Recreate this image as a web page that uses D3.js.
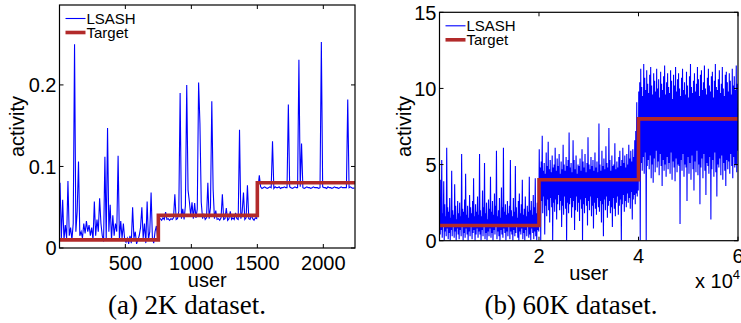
<!DOCTYPE html>
<html>
<head>
<meta charset="utf-8">
<script src="https://cdn.jsdelivr.net/npm/d3@7"></script>
<style>
  html, body { margin: 0; padding: 0; background: #fff; }
  svg { display: block; }
  .tick-label { font-family: "Liberation Sans", Arial, sans-serif; font-size: 20px; fill: #000; }
  .axis-title { font-family: "Liberation Sans", Arial, sans-serif; font-size: 20px; fill: #000; }
  .legend-text { font-family: "Liberation Sans", Arial, sans-serif; font-size: 15px; fill: #000; }
  .caption { font-family: "Liberation Serif", "Times New Roman", serif; font-size: 27px; fill: #000; }
</style>
</head>
<body>
<div id="chart"></div>
<script>
// ---- panel (a): 2K dataset, LSASH sampled every 10 users starting at user 5 ----
const lsashStartA = 5, lsashStepA = 10;
const lsashA = [
  0.08, 0.012, 0.059, 0.01, 0.028, 0.012, 0.082, 0.015, 0.025, 0.01,
  0.03, 0.25, 0.02, 0.045, 0.106, 0.015, 0.02, 0.012, 0.03, 0.018,
  0.033, 0.02, 0.028, 0.015, 0.025, 0.01, 0.057, 0.015, 0.035, 0.02,
  0.061, 0.03, 0.015, 0.008, 0.112, 0.01, 0.147, 0.02, 0.053, 0.01,
  0.04, 0.015, 0.03, 0.02, 0.113, 0.01, 0.033, 0.012, 0.03, 0.01,
  0.007, 0.012, 0.005, 0.015, 0.006, 0.05, 0.012, 0.02, 0.005, 0.01,
  0.015, 0.025, 0.05, 0.012, 0.03, 0.006, 0.057, 0.01, 0.02, 0.068,
  0.012, 0.006, 0.02, 0.027, 0.012,
  0.035, 0.036, 0.034, 0.037, 0.035, 0.044, 0.035, 0.036, 0.034, 0.036,
  0.035, 0.037, 0.066, 0.035, 0.036, 0.045, 0.19, 0.036, 0.048, 0.035,
  0.052, 0.2, 0.071, 0.057, 0.04, 0.056, 0.036, 0.055, 0.037, 0.048,
  0.203, 0.153, 0.056, 0.036, 0.042, 0.035, 0.037, 0.08, 0.036, 0.05,
  0.18, 0.072, 0.036, 0.046, 0.035, 0.036, 0.034, 0.037, 0.066, 0.035,
  0.036, 0.049, 0.034, 0.036, 0.045, 0.035, 0.037, 0.035, 0.043, 0.036,
  0.035, 0.145, 0.036, 0.044, 0.068, 0.035, 0.037, 0.077, 0.036, 0.035,
  0.04, 0.036, 0.034, 0.037, 0.036,
  0.074, 0.089, 0.075, 0.073, 0.074, 0.075, 0.074, 0.073, 0.074, 0.075,
  0.074, 0.131, 0.073, 0.075, 0.074, 0.074, 0.075, 0.073, 0.074, 0.074,
  0.075, 0.074, 0.074, 0.176, 0.075, 0.074, 0.073, 0.074, 0.075, 0.074,
  0.074, 0.231, 0.075, 0.128, 0.074, 0.073, 0.074, 0.075, 0.074, 0.074,
  0.073, 0.074, 0.075, 0.074, 0.074, 0.074, 0.073, 0.074, 0.2525, 0.075,
  0.074, 0.074, 0.073, 0.075, 0.074, 0.074, 0.073, 0.074, 0.075, 0.074,
  0.074, 0.073, 0.074, 0.075, 0.074, 0.074, 0.074, 0.074, 0.182, 0.074,
  0.075, 0.074, 0.073, 0.074
];
const targetUsersA = [1, 750, 1500, 2240];
const targetA = [0.01, 0.04, 0.08, 0.08];
const xTicksA = [500, 1000, 1500, 2000];
const yTicksA = [0, 0.1, 0.2];

// ---- panel (b): 60K dataset, LSASH sampled every 100 users starting at user 50 ----
const lsashStartB = 50, lsashStepB = 100;
const lsashB = [
  // users 0 - 20000
  2.1,0.4,4.0,0.7,5.3,0.2,1.8,0.9,3.9,0.0,2.4,0.6,1.6,0.3,6.1,0.8,2.2,0.1,1.9,0.5,
  2.8,0.0,1.5,0.7,4.6,0.3,2.0,0.9,1.7,0.2,3.7,0.6,2.3,0.0,1.4,0.8,2.6,0.4,1.8,0.1,
  2.5,0.7,1.6,0.3,5.7,0.9,2.1,0.0,1.9,0.5,2.7,0.2,4.4,0.8,1.7,0.4,2.3,0.0,1.5,0.6,
  3.0,0.3,2.2,0.9,1.8,0.1,2.6,0.5,4.1,0.7,1.6,0.0,2.4,0.4,1.9,0.8,2.9,0.2,1.7,0.6,
  5.7,0.4,2.0,0.0,1.6,0.7,3.3,0.3,2.2,0.9,5.1,0.1,1.8,0.5,2.5,0.0,1.4,0.6,2.7,0.3,
  2.1,0.8,4.2,0.2,1.9,0.5,2.6,0.0,1.7,0.7,3.1,0.4,2.3,0.9,5.9,0.1,1.6,0.6,2.0,0.3,
  2.8,0.0,1.5,0.7,3.5,0.4,2.2,0.2,6.1,0.8,1.9,0.5,2.4,0.0,1.7,0.6,2.6,0.3,1.8,0.9,
  2.3,0.1,5.3,0.6,2.0,0.4,1.6,0.0,2.8,0.7,1.9,0.3,4.9,0.5,2.2,0.9,1.5,0.2,2.6,0.0,
  3.1,0.6,1.8,0.4,2.4,0.8,4.0,0.1,1.7,0.5,2.1,0.0,2.9,0.7,1.6,0.3,2.3,0.9,1.9,0.2,
  4.2,0.4,2.0,0.0,2.6,0.8,1.7,0.5,3.0,0.1,2.2,0.6,4.1,0.3,1.8,0.0,2.5,0.7,2.0,0.6,
  // users 20000 - 40000
  6.0,2.1,4.8,0.0,5.2,2.6,6.9,1.8,4.6,2.9,5.1,0.4,4.4,2.3,5.8,1.6,4.9,2.7,6.5,2.0,
  4.7,1.2,5.3,2.8,4.5,2.2,5.6,0.0,4.8,2.5,5.0,1.9,6.1,2.7,4.6,1.4,5.4,2.4,4.9,3.0,
  5.7,2.0,4.4,2.6,5.2,0.9,4.7,2.3,6.3,1.7,5.0,2.9,4.6,2.1,5.5,0.0,4.9,2.5,5.3,1.8,
  7.1,2.4,4.8,2.8,5.1,1.5,4.5,2.2,6.6,2.6,5.3,0.7,4.7,2.0,5.6,2.9,4.4,1.9,5.0,2.5,
  4.9,1.3,5.4,2.7,4.6,2.1,6.0,0.0,5.2,2.4,4.8,1.8,5.7,2.8,4.5,2.3,5.1,1.0,6.8,2.6,
  5.0,2.0,4.7,2.9,5.5,1.6,4.9,2.3,5.3,0.8,4.6,2.5,5.8,2.1,4.8,1.7,5.2,2.8,4.5,2.2,
  7.7,1.9,5.0,2.6,4.6,1.2,5.9,2.4,4.9,0.3,5.4,2.7,4.7,2.0,6.2,2.9,5.1,1.5,4.8,2.3,
  7.4,2.6,5.3,1.8,4.6,2.2,5.6,0.9,4.9,2.8,5.0,2.1,6.4,1.6,4.7,2.5,5.2,2.9,4.8,1.7,
  5.5,2.3,5.9,2.7,4.9,0.0,5.3,2.4,6.1,3.0,5.1,1.9,5.6,2.6,4.8,2.2,5.7,3.1,5.0,2.5,
  6.3,2.8,5.4,2.1,5.9,3.2,5.2,1.4,6.0,2.7,5.5,3.0,6.6,2.4,7.2,3.1,9.1,2.9,6.8,3.3,
  // users 40000 - 60000
  9.8,4.2,10.4,0.0,11.3,5.1,10.1,4.6,9.5,5.5,11.6,4.4,10.7,5.8,9.9,0.0,11.2,4.9,10.3,5.3,
  9.7,4.7,10.9,5.6,11.4,4.1,10.2,5.0,9.6,3.8,11.0,5.4,10.5,4.5,9.8,5.9,11.3,4.8,10.0,5.2,
  10.6,4.3,9.4,5.7,11.1,4.9,10.3,3.6,9.9,5.3,10.8,4.6,11.5,5.0,9.6,4.2,10.4,5.5,11.0,4.7,
  10.1,5.1,9.7,4.4,11.2,5.8,10.5,4.0,9.3,5.2,10.9,4.8,10.2,3.9,11.4,5.4,9.8,4.5,10.6,5.0,
  11.0,4.9,10.0,1.1,9.5,5.3,10.7,4.6,11.3,5.7,9.9,4.2,10.4,5.0,9.6,4.8,11.1,2.6,10.2,5.5,
  9.4,4.4,10.8,5.1,11.6,4.0,10.1,5.6,9.7,4.7,10.5,3.3,11.0,5.2,9.8,4.5,10.3,5.9,11.4,4.3,
  10.6,5.0,9.5,2.4,10.9,4.8,11.2,5.4,9.9,4.1,10.4,5.7,11.5,4.6,10.0,3.0,9.6,5.1,10.7,4.9,
  11.3,4.4,10.2,5.5,9.8,1.4,10.8,4.7,11.1,5.3,9.4,4.2,10.5,5.8,11.6,4.5,10.1,2.9,9.9,5.0,
  10.6,4.8,11.2,5.4,9.7,4.3,10.3,5.6,11.4,4.0,10.0,5.1,9.5,4.6,10.9,3.6,11.1,5.3,10.4,4.7,
  9.8,5.2,11.0,4.4,10.5,5.7,9.6,4.9,11.3,4.1,10.2,5.5,10.8,4.8,9.9,5.0,11.5,4.5,10.3,5.9
];
const targetUsersB = [1, 20000, 40000, 60000];
const targetB = [1, 4, 8, 8];
const xTicksB = [20000, 40000, 60000];
const yTicksB = [0, 5, 10, 15];

const legendLabels = ['LSASH', 'Target'];
const captions = ['(a) 2K dataset.', '(b) 60K dataset.'];

const W = 741, H = 323;
const blue = '#0000ff', red = '#b22a2a';

const svg = d3.select('#chart').append('svg').attr('width', W).attr('height', H);
svg.append('rect').attr('width', W).attr('height', H).attr('fill', '#fff');

function drawPanel(p) {
  const x = d3.scaleLinear().domain(p.xDomain).range([p.left, p.right]);
  const y = d3.scaleLinear().domain(p.yDomain).range([p.bottom, p.top]);
  const g = svg.append('g');

  const clipId = 'clip-' + p.id;
  g.append('clipPath').attr('id', clipId).append('rect')
    .attr('x', p.left).attr('y', p.top).attr('width', p.right - p.left).attr('height', p.bottom - p.top);

  const pts = p.lsash.map((v, i) => [p.start + i * p.step, v]);
  const line = d3.line().x(d => x(d[0])).y(d => y(d[1]));
  g.append('path').datum(pts).attr('clip-path', `url(#${clipId})`)
    .attr('d', line).attr('fill', 'none').attr('stroke', blue).attr('stroke-width', p.lw);

  const tpts = p.targetUsers.map((u, i) => [u, p.target[i]]);
  const step = d3.line().x(d => x(d[0])).y(d => y(d[1])).curve(d3.curveStepAfter);
  g.append('path').datum(tpts).attr('clip-path', `url(#${clipId})`)
    .attr('d', step).attr('fill', 'none').attr('stroke', red).attr('stroke-width', 3.6);

  // frame
  g.append('rect').attr('x', p.left).attr('y', p.top)
    .attr('width', p.right - p.left).attr('height', p.bottom - p.top)
    .attr('fill', 'none').attr('stroke', '#000').attr('stroke-width', 1.2);

  // inward ticks on all four sides
  const tl = 4;
  p.xTicks.forEach(t => {
    const xx = x(t);
    g.append('line').attr('x1', xx).attr('x2', xx).attr('y1', p.bottom).attr('y2', p.bottom - tl).attr('stroke', '#000');
    g.append('line').attr('x1', xx).attr('x2', xx).attr('y1', p.top).attr('y2', p.top + tl).attr('stroke', '#000');
    g.append('text').attr('class', 'tick-label').attr('x', xx).attr('y', p.bottom + 22)
      .attr('text-anchor', 'middle').text(p.xFmt(t));
  });
  p.yTicks.forEach(t => {
    const yy = y(t);
    g.append('line').attr('x1', p.left).attr('x2', p.left + tl).attr('y1', yy).attr('y2', yy).attr('stroke', '#000');
    g.append('line').attr('x1', p.right).attr('x2', p.right - tl).attr('y1', yy).attr('y2', yy).attr('stroke', '#000');
    g.append('text').attr('class', 'tick-label').attr('x', p.left - 3).attr('y', yy).attr('dy', '0.36em')
      .attr('text-anchor', 'end').text(p.yFmt(t));
  });

  g.append('text').attr('class', 'axis-title').attr('x', (p.left + p.right) / 2).attr('y', p.bottom + 39)
    .attr('text-anchor', 'middle').text('user');
  g.append('text').attr('class', 'axis-title').attr('text-anchor', 'middle')
    .attr('transform', `translate(${p.yLabelX},${(p.top + p.bottom) / 2}) rotate(-90)`).text('activity');

  // legend (no box)
  const lx = p.left + 6;
  [[blue, 1.1], [red, 3.6]].forEach((s, i) => {
    const ly = p.top + 13.5 + i * 14;
    g.append('line').attr('x1', lx).attr('x2', lx + 20).attr('y1', ly).attr('y2', ly)
      .attr('stroke', s[0]).attr('stroke-width', s[1]);
    g.append('text').attr('class', 'legend-text').attr('x', lx + 21).attr('y', ly + 5.5).text(legendLabels[i]);
  });

  g.append('text').attr('class', 'caption').attr('x', p.captionX).attr('y', 314)
    .attr('text-anchor', 'middle').text(p.caption);
  return g;
}

drawPanel({
  id: 'a', left: 59.5, right: 355, top: 5, bottom: 248,
  xDomain: [1, 2240], yDomain: [0, 0.298],
  lsash: lsashA, start: lsashStartA, step: lsashStepA, lw: 1.1,
  targetUsers: targetUsersA, target: targetA,
  xTicks: xTicksA, yTicks: yTicksA,
  xFmt: d => String(d), yFmt: d => (d === 0 ? '0' : d3.format('.1f')(d)),
  yLabelX: 24, captionX: 187, caption: captions[0]
});

const gb = drawPanel({
  id: 'b', left: 439.5, right: 738, top: 12.3, bottom: 240.7,
  xDomain: [1, 60000], yDomain: [0, 15],
  lsash: lsashB, start: lsashStartB, step: lsashStepB, lw: 1.1,
  targetUsers: targetUsersB, target: targetB,
  xTicks: xTicksB, yTicks: yTicksB,
  xFmt: d => String(d / 10000), yFmt: d => String(d),
  yLabelX: 411, captionX: 571, caption: captions[1]
});

// exponent label of the x axis in panel (b)
const expo = gb.append('text').attr('class', 'tick-label').attr('x', 695).attr('y', 288);
expo.append('tspan').text('x 10');
expo.append('tspan').attr('font-size', '13px').attr('dy', '-9').text('4');
</script>
</body>
</html>
